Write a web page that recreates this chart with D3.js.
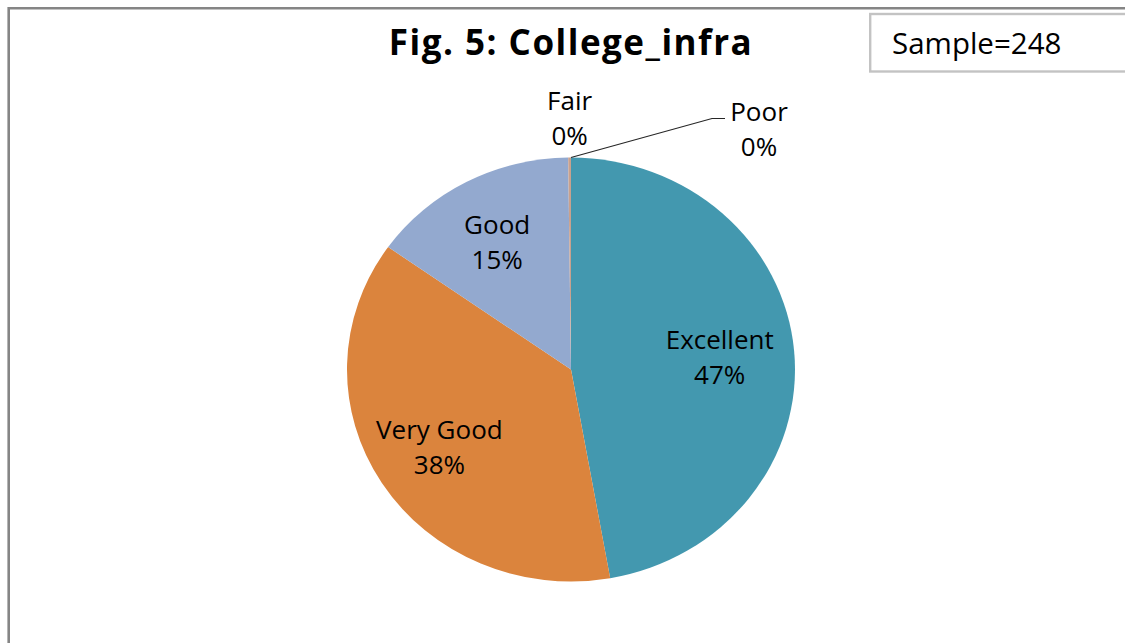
<!DOCTYPE html>
<html>
<head>
<meta charset="utf-8">
<script src="https://cdn.jsdelivr.net/npm/d3@7"></script>
<style>
  body { margin: 0; background: #fff; }
  text { font-family: "Open Sans", "Noto Sans", sans-serif; fill: #000; }
</style>
</head>
<body>
<script>
// data (percent of sample)
var categories = ["Excellent", "Very Good", "Good", "Fair", "Poor"];
var values = [47.2, 37.6, 15.0, 0.2, 0];
var pctLabels = ["47%", "38%", "15%", "0%", "0%"];
var colors = ["#4398AF", "#DB843D", "#93A9CF", "#C9A18E", "#A47D7C"];
var title = "Fig. 5: College_infra";
var sampleText = "Sample=248";

var width = 1125, height = 643;
var cx = 571, cy = 369.5, r = 212, sx = 224 / 212;

var svg = d3.select("body").append("svg")
    .attr("width", width)
    .attr("height", height);

// outer frame (cropped chart area)
svg.append("path")
    .attr("d", "M8.7," + (height + 5) + "V8.2H" + (width + 5))
    .attr("fill", "none")
    .attr("stroke", "#858585")
    .attr("stroke-width", 2.6);

svg.append("text")
    .attr("x", cx)
    .attr("y", 55)
    .attr("text-anchor", "middle")
    .style("font-size", "35px")
    .style("font-weight", "bold")
    .style("letter-spacing", "1.5px")
    .text(title);

// sample box
svg.append("rect")
    .attr("x", 870.2)
    .attr("y", 14)
    .attr("width", 300)
    .attr("height", 57.5)
    .attr("fill", "#fff")
    .attr("stroke", "#c3c3c3")
    .attr("stroke-width", 2.4);

svg.append("text")
    .attr("x", 892)
    .attr("y", 54)
    .style("font-size", "29.5px")
    .text(sampleText);

var data = categories.map(function (c, i) {
    return { name: c, value: values[i], label: pctLabels[i], color: colors[i] };
});

var pie = d3.pie().sort(null).value(function (d) { return d.value; });
var arcs = pie(data);

var arc = d3.arc().innerRadius(0).outerRadius(r);
var labelArc = d3.arc().innerRadius(r * 0.68).outerRadius(r * 0.68);
var edgeArc = d3.arc().innerRadius(r).outerRadius(r);

var g = svg.append("g")
    .attr("transform", "translate(" + cx + "," + cy + ")");

// pie is slightly wider than tall in the reference
g.append("g")
    .attr("transform", "scale(" + sx + ",1)")
    .selectAll("path")
    .data(arcs)
    .enter().append("path")
    .attr("d", arc)
    .attr("fill", function (d) { return d.data.color; });

function addLabel(x, y, d) {
    var t = g.append("text")
        .attr("text-anchor", "middle")
        .style("font-size", "26px");
    t.append("tspan").attr("x", x).attr("y", y).text(d.data.name);
    t.append("tspan").attr("x", x).attr("y", y + 35).text(d.data.label);
}

arcs.forEach(function (d) {
    if (d.data.value >= 1) {
        var c = labelArc.centroid(d);
        addLabel(c[0] * sx - 3, c[1] - 8, d);
    }
});

// small slices: labels outside, at the top of the pie
var fair = arcs[3], poor = arcs[4];
var fp = edgeArc.centroid(fair);
addLabel(fp[0] * sx, fp[1] - 48, fair);

var pp = edgeArc.centroid(poor);
g.append("path")
    .attr("d", "M" + (pp[0] * sx) + "," + pp[1] +
        "L" + (pp[0] * sx + 141) + "," + (pp[1] - 39) +
        "H" + (pp[0] * sx + 154))
    .attr("fill", "none")
    .attr("stroke", "#262626")
    .attr("stroke-width", 1.2);
addLabel(pp[0] * sx + 188, pp[1] - 37, poor);
</script>
</body>
</html>
